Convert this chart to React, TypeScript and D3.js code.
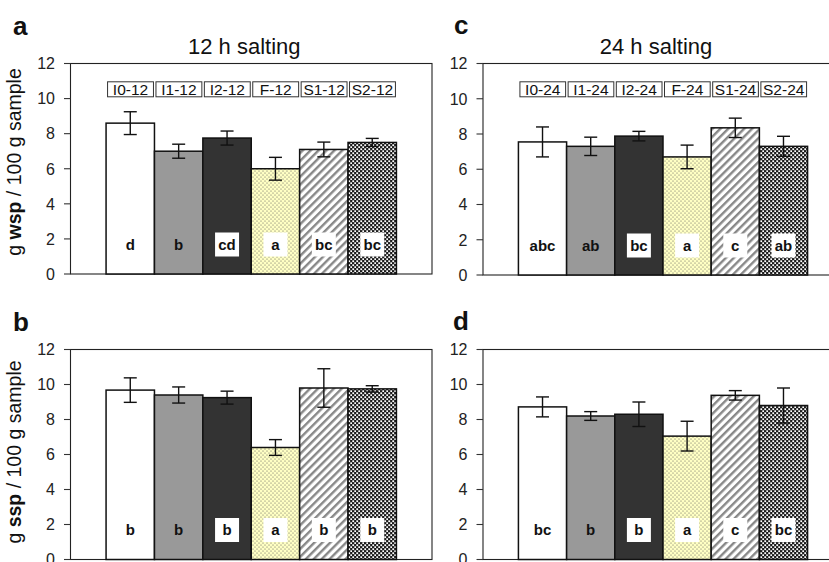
import React from "react";
import * as d3 from "d3";

// Treatment groups
const groups12 = ["I0-12", "I1-12", "I2-12", "F-12", "S1-12", "S2-12"];
const groups24 = ["I0-24", "I1-24", "I2-24", "F-24", "S1-24", "S2-24"];

// Water-soluble proteins (g wsp / 100 g sample)
const wsp12 = [8.6, 7.0, 7.75, 6.0, 7.1, 7.5];
const wsp12Err = [0.65, 0.4, 0.4, 0.65, 0.42, 0.23];
const wsp12Letters = ["d", "b", "cd", "a", "bc", "bc"];

const wsp24 = [7.55, 7.3, 7.88, 6.7, 8.35, 7.3];
const wsp24Err = [0.85, 0.52, 0.27, 0.67, 0.55, 0.57];
const wsp24Letters = ["abc", "ab", "bc", "a", "c", "ab"];

// Salt-soluble proteins (g ssp / 100 g sample)
const ssp12 = [9.68, 9.4, 9.25, 6.4, 9.8, 9.75];
const ssp12Err = [0.7, 0.46, 0.37, 0.45, 1.1, 0.18];
const ssp12Letters = ["b", "b", "b", "a", "b", "b"];

const ssp24 = [8.72, 8.2, 8.3, 7.05, 9.38, 8.8];
const ssp24Err = [0.57, 0.25, 0.7, 0.85, 0.27, 1.0];
const ssp24Letters = ["bc", "b", "b", "a", "c", "bc"];

const yTicks = [0, 2, 4, 6, 8, 10, 12];

const FONT = "'Liberation Sans', Arial, Helvetica, sans-serif";
const barFills = ["#ffffff", "#999999", "#333333", "url(#pDots)", "url(#pStripes)", "url(#pGrid)"];
const boxedLabel = [false, false, true, true, true, true];

type PanelProps = {
  x0: number;
  x1: number;
  y0: number;
  y1: number;
  groups: string[];
  values: number[];
  errors: number[];
  letters: string[];
  title?: string;
  legend?: boolean;
  tag: string;
  tagX: number;
  tagY: number;
};

function Panel({ x0, x1, y0, y1, groups, values, errors, letters, title, legend, tag, tagX, tagY }: PanelProps) {
  const x = d3.scaleBand<string>().domain(groups).range([x0, x1]).paddingInner(0).paddingOuter(0.735);
  const y = d3.scaleLinear().domain([0, 12]).range([y1, y0]);
  const bw = x.bandwidth();
  const cx = (x0 + x1) / 2;
  const labelY = y(0) - 29.5;

  return (
    <g fontFamily={FONT}>
      <text x={tagX} y={tagY} fontSize={26} fontWeight="bold" fill="#111">{tag}</text>
      {title && (
        <text x={cx - 7} y={54} fontSize={22} textAnchor="middle" fill="#111">{title}</text>
      )}
      {/* plot area frame */}
      <rect x={x0} y={y0} width={x1 - x0} height={y1 - y0} fill="none" stroke="#222" strokeWidth={1.1} />
      {/* y axis ticks and labels */}
      {yTicks.map((t) => (
        <g key={t}>
          <line x1={x0 - 6.5} x2={x0} y1={y(t)} y2={y(t)} stroke="#333" strokeWidth={1.1} />
          <text x={x0 - 15.5} y={y(t)} dy="0.36em" fontSize={16} textAnchor="end" fill="#222">{t}</text>
        </g>
      ))}
      {/* bars */}
      {groups.map((g, i) => (
        <rect key={g} x={x(g)} y={y(values[i])} width={bw} height={y(0) - y(values[i])}
          fill={barFills[i]} stroke="#111" strokeWidth={1.5} />
      ))}
      {/* error bars */}
      {groups.map((g, i) => {
        const mx = (x(g) as number) + bw / 2;
        const hi = y(values[i] + errors[i]);
        const lo = y(values[i] - errors[i]);
        return (
          <g key={g} stroke="#111" strokeWidth={1.4}>
            <line x1={mx} x2={mx} y1={hi} y2={lo} />
            <line x1={mx - 6.5} x2={mx + 6.5} y1={hi} y2={hi} />
            <line x1={mx - 6.5} x2={mx + 6.5} y1={lo} y2={lo} />
          </g>
        );
      })}
      {/* significance letters */}
      {groups.map((g, i) => {
        const mx = (x(g) as number) + bw / 2;
        const w = Math.max(24, letters[i].length * 9 + 6);
        return (
          <g key={g}>
            {boxedLabel[i] && (
              <rect x={mx - w / 2} y={labelY - 12} width={w} height={24} fill="#ffffff" />
            )}
            <text x={mx} y={labelY} dy="0.36em" fontSize={15} fontWeight="bold" textAnchor="middle" fill="#111">
              {letters[i]}
            </text>
          </g>
        );
      })}
      {/* legend entries */}
      {legend &&
        groups.map((g) => (
          <g key={g}>
            <rect x={(x(g) as number) + 1.5} y={y0 + 18.3} width={bw - 2.5} height={15}
              fill="#ffffff" stroke="#333" strokeWidth={1} />
            <text x={(x(g) as number) + 1.5 + (bw - 2.5) / 2} y={y0 + 31} fontSize={15.5}
              textAnchor="middle" fill="#111">{g}</text>
          </g>
        ))}
    </g>
  );
}

function YLabel({ x, y, bold }: { x: number; y: number; bold: string }) {
  return (
    <text transform={`translate(${x},${y}) rotate(-90)`} fontFamily={FONT} fontSize={19.5}
      textAnchor="middle" fill="#111">
      <tspan>g </tspan>
      <tspan fontWeight="bold">{bold}</tspan>
      <tspan> / 100 g sample</tspan>
    </text>
  );
}

export default function App() {
  return (
    <svg width={829} height={562} viewBox="0 0 829 562"
      style={{ position: "absolute", left: 0, top: 0, background: "#ffffff" }}>
      <defs>
        <pattern id="pDots" width={4} height={4} patternUnits="userSpaceOnUse">
          <rect width={4} height={4} fill="#ffffc4" />
          <circle cx={1} cy={1} r={0.55} fill="#555" />
          <circle cx={3} cy={3} r={0.55} fill="#555" />
        </pattern>
        <pattern id="pStripes" width={5.6} height={5.6} patternUnits="userSpaceOnUse"
          patternTransform="rotate(45)">
          <rect width={5.6} height={5.6} fill="#ffffff" />
          <rect width={2.4} height={5.6} fill="#888888" />
        </pattern>
        <pattern id="pGrid" width={4} height={4} patternUnits="userSpaceOnUse">
          <rect width={4} height={4} fill="#1c1c1c" />
          <rect x={0.3} y={0.3} width={1.8} height={1.8} fill="#ffffff" />
          <rect x={2.3} y={2.3} width={1.8} height={1.8} fill="#ffffff" />
        </pattern>
      </defs>
      <rect width={829} height={562} fill="#ffffff" />

      <Panel x0={70.5} x1={432} y0={63.5} y1={274} groups={groups12} values={wsp12} errors={wsp12Err}
        letters={wsp12Letters} title="12 h salting" legend tag="a" tagX={13} tagY={35} />
      <Panel x0={483} x1={843} y0={63.5} y1={275} groups={groups24} values={wsp24} errors={wsp24Err}
        letters={wsp24Letters} title="24 h salting" legend tag="c" tagX={454} tagY={34} />
      <Panel x0={70.5} x1={432} y0={349.5} y1={559.5} groups={groups12} values={ssp12} errors={ssp12Err}
        letters={ssp12Letters} tag="b" tagX={13} tagY={331} />
      <Panel x0={483} x1={843} y0={349.5} y1={559.5} groups={groups24} values={ssp24} errors={ssp24Err}
        letters={ssp24Letters} tag="d" tagX={453} tagY={330} />

      <YLabel x={21} y={162} bold="wsp" />
      <YLabel x={21} y={452} bold="ssp" />
    </svg>
  );
}
